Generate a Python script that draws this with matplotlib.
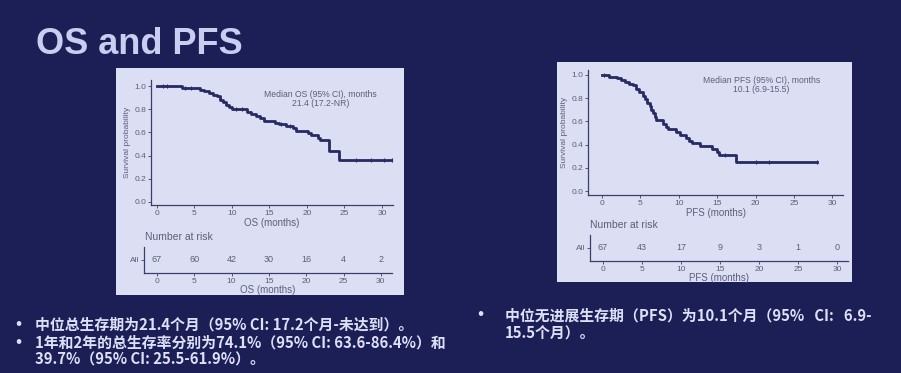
import numpy as np
import matplotlib
matplotlib.use("Agg")
import matplotlib.pyplot as plt
from matplotlib.patches import Rectangle

# ---- data ----
os_times = [0, 3.3, 5.7, 6.3, 7.0, 7.5, 8.0, 8.4, 8.8, 9.2, 9.6, 10.0, 12.0, 12.5,
            13.2, 13.8, 14.3, 15.8, 16.3, 17.2, 18.2, 18.6, 20.2, 20.5, 21.5, 21.8,
            23.0, 24.3]
os_surv = [1.0, 0.985, 0.97, 0.955, 0.94, 0.925, 0.91, 0.88, 0.865, 0.84, 0.82, 0.80,
           0.78, 0.76, 0.74, 0.72, 0.70, 0.685, 0.67, 0.655, 0.64, 0.615, 0.595, 0.575,
           0.555, 0.535, 0.44, 0.36]
os_end = 31.3
os_censor = [0.8, 1.4, 3.8, 4.6, 10.6, 11.4, 16.6, 17.8, 26.5, 28.5, 30.3, 31.3]

pfs_times = [0, 0.9, 2.0, 2.5, 3.0, 3.5, 4.0, 4.4, 4.8, 5.3, 5.6, 5.9, 6.2, 6.4, 6.6,
             6.9, 7.0, 7.9, 8.3, 8.6, 9.7, 10.1, 10.9, 11.3, 11.7, 12.8, 14.3, 15.0,
             15.3, 17.4]
pfs_surv = [1.0, 0.985, 0.97, 0.955, 0.94, 0.925, 0.91, 0.88, 0.85, 0.82, 0.79, 0.76,
            0.73, 0.70, 0.67, 0.64, 0.61, 0.58, 0.555, 0.535, 0.51, 0.485, 0.455, 0.43,
            0.41, 0.385, 0.36, 0.335, 0.31, 0.25]
pfs_end = 28.0
pfs_censor = [0.3, 16.0, 20.0, 21.8, 28.0]

risk_times = [0, 5, 10, 15, 20, 25, 30]
os_risk = [67, 60, 42, 30, 16, 4, 2]
pfs_risk = [67, 43, 17, 9, 3, 1, 0]

os_note = ["Median OS (95% CI), months", "21.4 (17.2-NR)"]
pfs_note = ["Median PFS (95% CI), months", "10.1 (6.9-15.5)"]

left_bullets = ["中位总生存期为21.4个月（95% CI: 17.2个月-未达到）。",
                "1年和2年的总生存率分别为74.1%（95% CI: 63.6-86.4%）和",
                "39.7%（95% CI: 25.5-61.9%）。"]
right_bullets = ["中位无进展生存期（PFS）为10.1个月（95%   CI:   6.9-",
                 "15.5个月）。"]

W, H = 901, 373
BG = "#1b1f56"
PANEL = "#dcdff4"
INK = "#262b63"
GREY = "#5a5f78"
LIGHT = "#dde0f6"
CJK = ["Noto Sans CJK SC", "DejaVu Sans"]

fig = plt.figure(figsize=(W / 100, H / 100), dpi=100)
fig.patch.set_facecolor(BG)


def fx(px):
    return px / W


def fy(py):
    return 1 - py / H


def add_ax(x0, y0, x1, y1):
    # pixel box (top-left origin) -> axes
    ax = fig.add_axes([fx(x0), fy(y1), fx(x1 - x0), (y1 - y0) / H])
    ax.set_zorder(2)
    return ax


# panels
for (x0, y0, x1, y1) in [(116, 68, 404, 295), (557, 62, 852, 282)]:
    fig.patches.append(Rectangle((fx(x0), fy(y1)), fx(x1 - x0), (y1 - y0) / H,
                                 transform=fig.transFigure, facecolor=PANEL,
                                 edgecolor="none", zorder=-5))


def km(ax, times, surv, end, censor):
    t = list(times) + [end]
    s = list(surv) + [surv[-1]]
    ax.step(t, s, where="post", color=INK, lw=2.0)
    idx = np.searchsorted(times, censor, side="right") - 1
    ax.plot(censor, np.array(surv)[idx], ls="none", marker="|", ms=3.5,
            mew=0.8, color=INK)


def style(ax, xlim, ylim):
    ax.set_xlim(*xlim)
    ax.set_ylim(*ylim)
    ax.patch.set_alpha(0)
    for sp in ["top", "right"]:
        ax.spines[sp].set_visible(False)
    for sp in ["left", "bottom"]:
        ax.spines[sp].set_color("#3a3f6a")
        ax.spines[sp].set_linewidth(0.9)
    ax.tick_params(length=2, width=0.6, pad=1.5, labelsize=6,
                   colors="#3a3f6a", labelcolor=GREY)
    ax.set_xticks(risk_times)
    ax.set_xticklabels([str(t) for t in risk_times], family="Liberation Sans")


def main_panel(box, xlim, ylim, times, surv, end, censor, note, xlabel, note_xy):
    ax = add_ax(*box)
    style(ax, xlim, ylim)
    km(ax, times, surv, end, censor)
    ax.set_yticks([0, 0.2, 0.4, 0.6, 0.8, 1.0])
    ax.set_yticklabels(["0.0", "0.2", "0.4", "0.6", "0.8", "1.0"], family="Liberation Sans")
    ax.set_xlabel(xlabel, fontsize=7, color=GREY, labelpad=0.5,
                  family="Liberation Sans")
    ax.set_ylabel("Survival probability", fontsize=6, color=GREY, labelpad=2,
                  family="Liberation Sans")
    ax.text(note_xy[0], note_xy[1], note[0] + "\n" + note[1], transform=ax.transAxes,
            ha="center", va="top", fontsize=6.2, color=GREY, linespacing=1.0,
            family="Liberation Sans")
    return ax


def risk_panel(box, xlim, counts, xlabel, title_px):
    ax = add_ax(*box)
    style(ax, xlim, (0, 1))
    ax.set_yticks([0.5])
    ax.set_yticklabels(["All"], family="Liberation Sans")
    for t, n in zip(risk_times, counts):
        ax.text(t, 0.5, str(n), ha="center", va="center", fontsize=6.5, color=GREY,
                family="Liberation Sans")
    ax.set_xlabel(xlabel, fontsize=7, color=GREY, labelpad=0,
                  family="Liberation Sans")
    fig.text(fx(title_px[0]), fy(title_px[1]), "Number at risk", fontsize=7.5,
             color=GREY, ha="left", va="center", family="Liberation Sans", zorder=3)
    return ax


# OS: y spine x=151, 0 at 157, 30 at 382; 1.0 at y86, 0.0 at y202
main_panel((151, 80, 393, 205), (-0.8, 31.47), (-0.026, 1.052),
           os_times, os_surv, os_end, os_censor, os_note, "OS (months)", (0.7, 0.92))
risk_panel((144, 247, 392, 273), (-1.74, 31.5), os_risk, "OS (months)", (145, 237))

# PFS
main_panel((588, 70, 843, 195), (-1.83, 31.4), (-0.034, 1.043),
           pfs_times, pfs_surv, pfs_end, pfs_censor, pfs_note, "PFS (months)", (0.68, 0.95))
risk_panel((590, 235, 848, 261), (-1.67, 31.4), pfs_risk, "PFS (months)", (590, 225))

# title
fig.text(fx(36), fy(44), "OS and PFS", fontsize=26, fontweight="bold", color="#c9cdf0",
         ha="left", va="center", family="Liberation Sans")

# bullets
for (bx, tx, y, s) in [(18, 35, 325, left_bullets[0]), (18, 35, 343, left_bullets[1]),
                       (None, 35, 360, left_bullets[2]), (480, 505, 316, right_bullets[0]),
                       (None, 505, 334, right_bullets[1])]:
    if bx is not None:
        fig.text(fx(bx), fy(y), "•", fontsize=13, fontweight="bold", color=LIGHT,
                 ha="center", va="center", family=CJK)
    fig.text(fx(tx), fy(y), s, fontsize=10.7, fontweight="bold", color=LIGHT,
             ha="left", va="center", family=CJK)

fig.savefig("out.png", dpi=100, facecolor=BG)
